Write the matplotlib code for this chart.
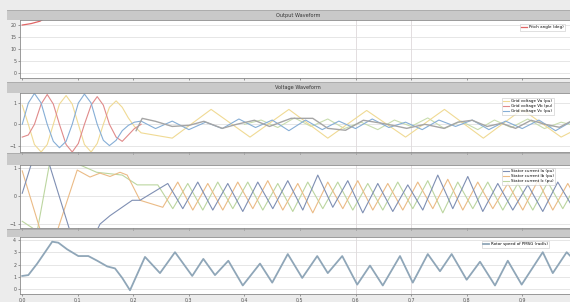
import matplotlib
matplotlib.use("Agg")
import matplotlib.pyplot as plt
from matplotlib.patches import Rectangle
from matplotlib.lines import Line2D

# ---------------- data ----------------
x_ticks = [0.0, 0.1, 0.2, 0.3, 0.4, 0.5, 0.6, 0.7, 0.8, 0.9]
cursor_times = [0.6, 0.7]

# Panel 1 : output waveform
out_t = [0.000, 0.016, 0.032, 0.040]
out_v = [20.0, 20.6, 21.6, 22.8]
out_ticks = [0, 5, 10, 15, 20]
out_label = "Pitch angle (deg)"

# Panel 2 : voltage waveform
va_t = [0.000, 0.011, 0.022, 0.034, 0.045, 0.056, 0.067, 0.079, 0.090, 0.101,
        0.112, 0.124, 0.135, 0.146, 0.157, 0.169, 0.180, 0.191, 0.202, 0.214,
        0.240, 0.270, 0.300, 0.330, 0.360, 0.390, 0.420, 0.450, 0.480, 0.510,
        0.540, 0.570, 0.600, 0.630, 0.660, 0.690, 0.720, 0.750, 0.780, 0.810,
        0.840, 0.870, 0.900, 0.930, 0.960, 0.990]
va_v = [0.0, 1.0, 1.45, 1.0, 0.0, -0.8, -1.1, -0.8, 0.0, 1.0,
        1.42, 1.0, 0.0, -0.75, -1.0, -0.75, -0.3, -0.05, 0.1, 0.15,
        -0.2, 0.15, -0.25, 0.1, -0.2, 0.25, -0.15, 0.2, -0.3, 0.2,
        -0.25, 0.15, -0.2, 0.25, -0.15, 0.1, -0.25, 0.2, -0.1, 0.2,
        -0.25, 0.15, -0.2, 0.2, -0.3, 0.15]
vb_t = [0.000, 0.011, 0.022, 0.034, 0.045, 0.056, 0.067, 0.079, 0.090, 0.101,
        0.112, 0.124, 0.135, 0.146, 0.157, 0.169, 0.180, 0.191, 0.202, 0.214]
vb_v = [-0.6, -0.5, 0.0, 0.95, 1.4, 0.95, 0.0, -0.95, -1.3, -0.9,
        0.0, 0.9, 1.3, 0.9, 0.0, -0.6, -0.8, -0.5, -0.2, 0.0]
vc_t = [0.000, 0.011, 0.022, 0.034, 0.045, 0.056, 0.067, 0.079, 0.090, 0.101,
        0.112, 0.124, 0.135, 0.146, 0.157, 0.169, 0.180, 0.191, 0.202, 0.214,
        0.270, 0.340, 0.410, 0.480, 0.550, 0.620, 0.690, 0.760, 0.830, 0.900,
        0.970, 1.000]
vc_v = [0.9, 0.0, -0.95, -1.3, -0.95, 0.0, 0.95, 1.35, 0.95, 0.0,
        -0.95, -1.3, -0.9, 0.0, 0.8, 1.1, 0.8, 0.3, -0.1, -0.4,
        -0.65, 0.7, -0.6, 0.7, -0.65, 0.65, -0.6, 0.7, -0.65, 0.7,
        -0.6, -0.2]
vg_t = [0.205, 0.216, 0.240, 0.270, 0.300, 0.327, 0.360, 0.386, 0.418, 0.445,
        0.484, 0.523, 0.550, 0.582, 0.614, 0.647, 0.667, 0.692, 0.725, 0.759,
        0.784, 0.810, 0.837, 0.863, 0.888, 0.916, 0.941, 0.967, 0.994]
vg_v = [-0.3, 0.28, 0.14, -0.10, -0.05, 0.14, -0.19, 0.0, 0.19, -0.10,
        0.28, 0.28, -0.19, -0.28, 0.19, 0.05, -0.05, -0.19, 0.0, -0.19,
        0.10, 0.19, -0.10, 0.05, -0.19, 0.19, 0.0, -0.14, 0.23]
vn_t = [0.40, 0.43, 0.46, 0.49, 0.52, 0.55, 0.58, 0.61, 0.64, 0.67,
        0.70, 0.73, 0.76, 0.79, 0.82, 0.85, 0.88, 0.91, 0.94, 0.97, 1.00]
vn_v = [0.0, 0.2, -0.15, 0.3, -0.1, 0.25, -0.2, 0.1, -0.25, 0.2,
        -0.1, 0.3, -0.2, 0.15, -0.25, 0.2, -0.15, 0.25, -0.2, 0.1, -0.1]
volt_ticks = [-1, 0, 1]
volt_labels = ["Grid voltage Va (pu)", "Grid voltage Vb (pu)", "Grid voltage Vc (pu)"]

# Panel 3 : current waveform
ia_t = [0.000, 0.018, 0.047, 0.086, 0.134, 0.140, 0.158, 0.198, 0.212,
        0.262, 0.289, 0.316, 0.343, 0.370, 0.397, 0.424, 0.451, 0.478, 0.505,
        0.532, 0.559, 0.586, 0.613, 0.640, 0.667, 0.694, 0.721, 0.748, 0.775,
        0.802, 0.829, 0.856, 0.883, 0.910, 0.937, 0.964, 0.991, 1.018]
ia_v = [0.10, 1.25, 1.25, -1.25, -1.25, -1.0, -0.7, -0.15, -0.15,
        0.45, -0.45, 0.5, -0.5, 0.45, -0.55, 0.5, -0.45, 0.55, -0.5,
        0.75, -0.4, 0.55, -0.6, 0.45, -0.55, 0.4, -0.5, 0.75, -0.45,
        0.7, -0.55, 0.45, -0.5, 0.4, -0.55, 0.5, -0.4, 0.55]
ib_t = [0.000, 0.033, 0.063, 0.099, 0.122, 0.140, 0.158, 0.176, 0.189, 0.212,
        0.253, 0.280, 0.307, 0.334, 0.361, 0.388, 0.415, 0.442, 0.469, 0.496,
        0.523, 0.550, 0.577, 0.604, 0.631, 0.658, 0.685, 0.712, 0.739, 0.766,
        0.793, 0.820, 0.847, 0.874, 0.901, 0.928, 0.955, 0.982, 1.009]
ib_v = [0.90, -1.25, -1.25, 0.93, 0.68, 0.82, 0.70, 0.85, 0.75, -0.15,
        -0.4, 0.5, -0.5, 0.45, -0.5, 0.5, -0.45, 0.55, -0.5, 0.45,
        -0.6, 0.5, -0.45, 0.55, -0.5, 0.45, -0.5, 0.5, -0.45, 0.6,
        -0.5, 0.5, -0.45, 0.45, -0.5, 0.55, -0.5, 0.45, -0.5]
ic_t = [0.000, 0.027, 0.050, 0.088, 0.134, 0.180, 0.207,
        0.244, 0.271, 0.298, 0.325, 0.352, 0.379, 0.406, 0.433, 0.460, 0.487,
        0.514, 0.541, 0.568, 0.595, 0.622, 0.649, 0.676, 0.703, 0.730, 0.757,
        0.784, 0.811, 0.838, 0.865, 0.892, 0.919, 0.946, 0.973, 1.000]
ic_v = [-0.9, -1.25, 1.25, 1.25, 0.85, 0.75, 0.40,
        0.4, -0.45, 0.45, -0.5, 0.5, -0.45, 0.5, -0.5, 0.45, -0.55,
        0.5, -0.45, 0.5, -0.5, 0.45, -0.5, 0.5, -0.45, 0.55, -0.6,
        0.5, -0.45, 0.5, -0.5, 0.45, -0.5, 0.5, -0.45, 0.5]
cur_ticks = [-1, 0, 1]
cur_labels = ["Stator current Ia (pu)", "Stator current Ib (pu)", "Stator current Ic (pu)"]

# Panel 4 : speed waveform
sp_t = [0.000, 0.011, 0.027, 0.054, 0.065, 0.081, 0.101, 0.119, 0.135, 0.153,
        0.167, 0.180, 0.194, 0.221, 0.248, 0.275, 0.306, 0.326, 0.347, 0.371,
        0.397, 0.428, 0.450, 0.478, 0.504, 0.531, 0.550, 0.576, 0.603, 0.626,
        0.649, 0.680, 0.703, 0.730, 0.752, 0.773, 0.800, 0.824, 0.851, 0.874,
        0.899, 0.937, 0.955, 0.980, 0.995]
sp_v = [1.08, 1.15, 2.08, 3.85, 3.77, 3.23, 2.69, 2.69, 2.31, 1.85,
        1.69, 0.92, -0.08, 2.62, 1.31, 3.00, 1.08, 2.46, 1.15, 2.31,
        0.31, 2.08, 0.54, 2.85, 0.92, 2.69, 1.31, 2.69, 0.38, 1.92,
        0.31, 2.69, 0.54, 2.85, 1.46, 2.85, 0.77, 2.23, 0.31, 2.31,
        0.38, 3.00, 1.31, 3.00, 2.30]
sp_ticks = [0, 1, 2, 3, 4]
sp_label = "Rotor speed of PMSG (rad/s)"

# ---------------- figure ----------------
W, H = 570, 302
fig = plt.figure(figsize=(W / 100, H / 100), dpi=100, facecolor="#ececec")


def fx(px):
    return px / W


def fy(py):
    return 1 - py / H


def make_ax(top, bottom):
    ax = fig.add_axes([fx(20), fy(bottom), 1 - fx(20), (bottom - top) / H])
    ax.set_facecolor("white")
    ax.set_xlim(-0.004, 0.986)
    ax.set_xticks(x_ticks)
    ax.tick_params(labelsize=3.4, length=1.5, width=0.4, pad=1.2,
                   colors="#555555")
    for s in ax.spines.values():
        s.set_color("#8a8a8a")
        s.set_linewidth(0.6)
    ax.grid(axis="y", color="#dcdcdc", linewidth=0.5)
    for ct in cursor_times:
        ax.axvline(ct, color="#e3dde0", linewidth=0.7, zorder=0)
    return ax


def bar(top, bottom, title=None):
    fig.add_artist(Rectangle((fx(7), fy(bottom)), 1, (bottom - top) / H,
                             transform=fig.transFigure, facecolor="#c9c9c9",
                             edgecolor="none", zorder=0))
    fig.add_artist(Line2D([fx(7), 1], [fy(top), fy(top)], transform=fig.transFigure,
                          color="#a8a8a8", linewidth=0.6))
    if title:
        fig.text(fx(298), fy((top + bottom) / 2), title, ha="center", va="center",
                 fontsize=3.6, color="#333333")


def legend(ax, handles, labels, px, py):
    lg = ax.legend(handles, labels, loc="upper left",
                   bbox_to_anchor=(fx(px), fy(py)), bbox_transform=fig.transFigure,
                   fontsize=2.9, frameon=True, borderpad=0.35, labelspacing=0.25,
                   handlelength=1.3, handletextpad=0.6, fancybox=False)
    lg.get_frame().set_edgecolor("#bbbbbb")
    lg.get_frame().set_linewidth(0.4)
    lg.get_frame().set_facecolor("white")


bar(10, 20, "Output Waveform")
bar(82, 93, "Voltage Waveform")
bar(153, 165)
bar(229, 237)

# Panel 1
ax1 = make_ax(20, 78)
ax1.set_ylim(-2.1, 22.1)
ax1.set_yticks(out_ticks)
ax1.set_xticklabels([])
h1, = ax1.plot(out_t, out_v, color="#e06666", linewidth=0.9)
legend(ax1, [h1], [out_label], 518, 22)

# Panel 2
ax2 = make_ax(93, 152)
ax2.set_ylim(-1.3, 1.47)
ax2.set_yticks(volt_ticks)
ax2.set_xticklabels([])
ax2.plot(vn_t, vn_v, color="#c9ddae", linewidth=0.8)
hc, = ax2.plot(vc_t, vc_v, color="#f0da94", linewidth=0.8)
hb, = ax2.plot(vb_t, vb_v, color="#e08a8a", linewidth=0.8)
ha, = ax2.plot(va_t, va_v, color="#86aed6", linewidth=0.8)
ax2.plot(vg_t, vg_v, color="#a5a5a5", linewidth=1.0)
legend(ax2, [hc, hb, ha], volt_labels, 500, 96)

# Panel 3
ax3 = make_ax(165, 228)
ax3.set_ylim(-1.14, 1.11)
ax3.set_yticks(cur_ticks)
ax3.set_xticklabels([])
hic, = ax3.plot(ic_t, ic_v, color="#bcd6a0", linewidth=0.8)
hib, = ax3.plot(ib_t, ib_v, color="#ebbb86", linewidth=0.8)
hia, = ax3.plot(ia_t, ia_v, color="#7f8fb3", linewidth=0.8)
legend(ax3, [hia, hib, hic], cur_labels, 500, 166)

# Panel 4
ax4 = make_ax(237, 294)
ax4.set_ylim(-0.38, 4.23)
ax4.set_yticks(sp_ticks)
h4, = ax4.plot(sp_t, sp_v, color="#8fa6b8", linewidth=1.3,
               solid_joinstyle="round")
legend(ax4, [h4], [sp_label], 480, 239)

fig.savefig("out.png", dpi=100, facecolor=fig.get_facecolor())
